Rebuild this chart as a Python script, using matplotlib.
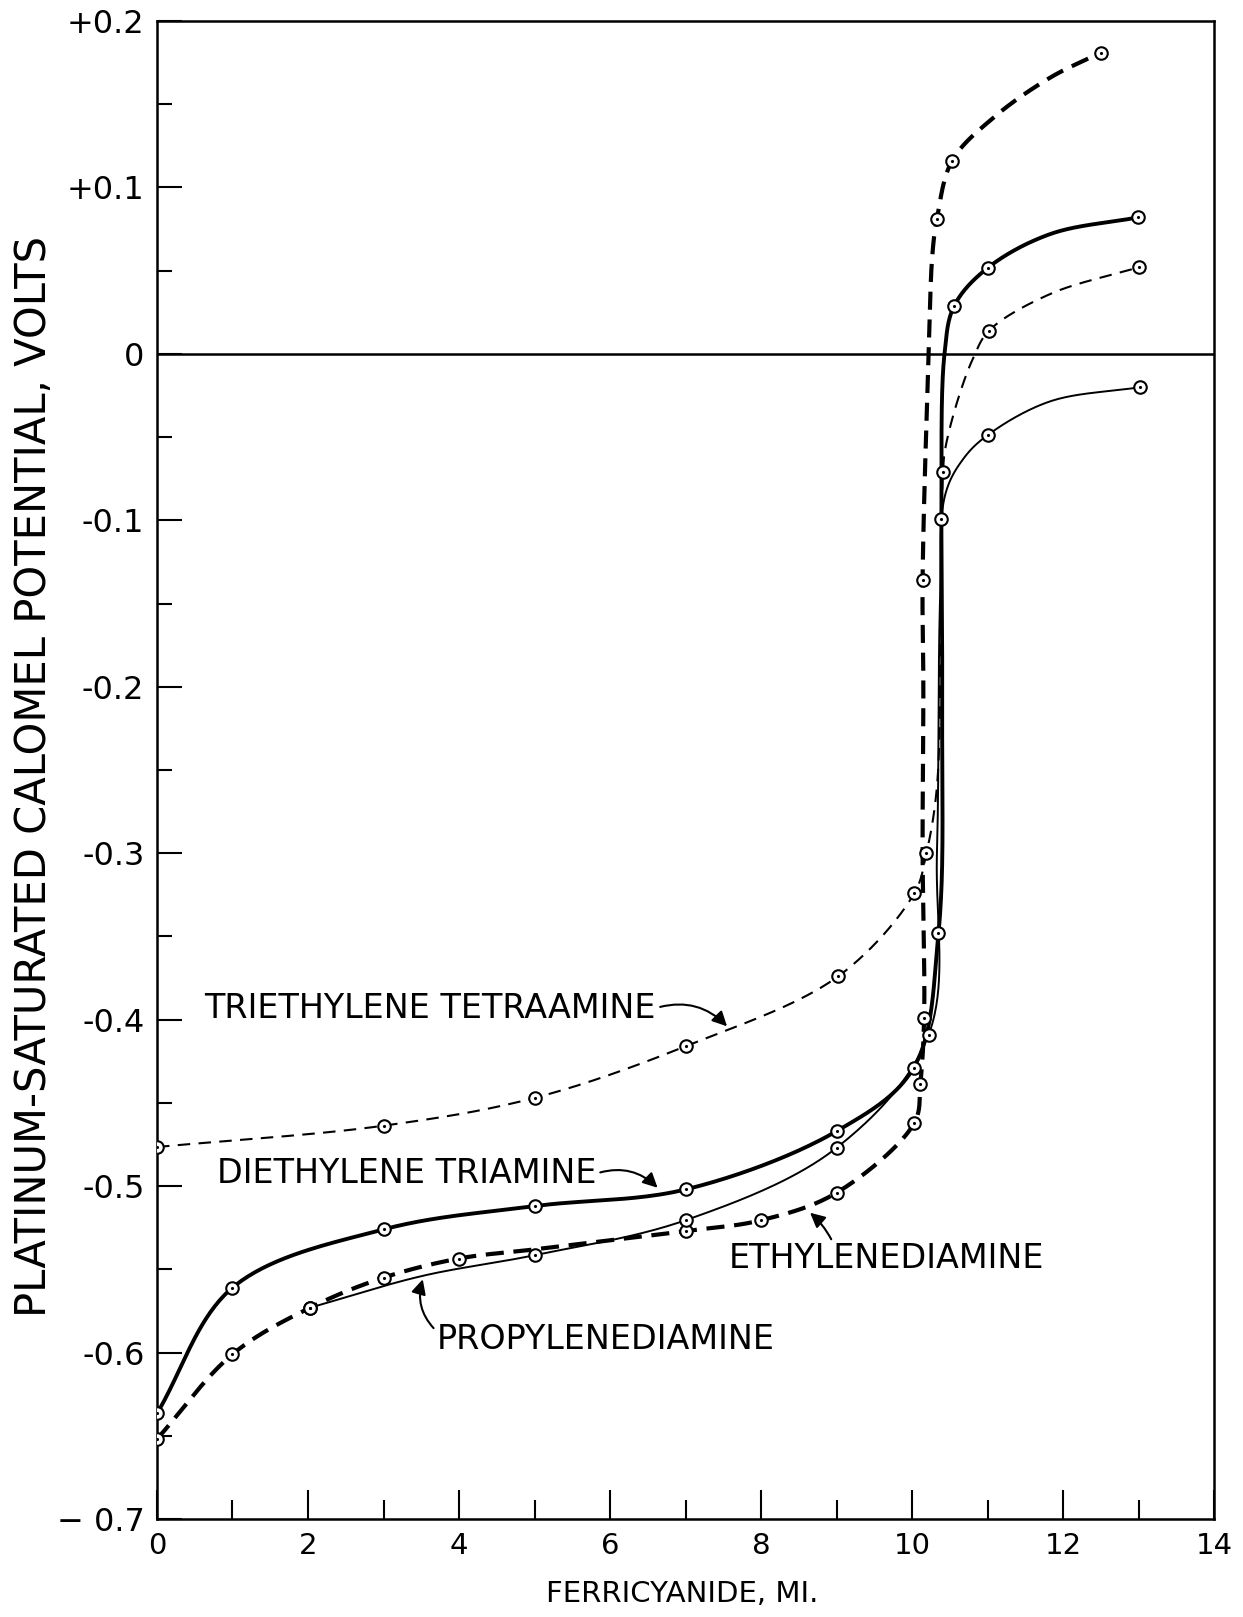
import matplotlib
matplotlib.use("Agg")
import matplotlib.pyplot as plt
import numpy as np

plt.rcParams['font.family'] = ['DejaVu Sans']
plt.rcParams['lines.scale_dashes'] = False

# measured points (drawn with circles)
eth_x = [0, 1, 2.03, 3, 4, 7, 8, 9, 10.03, 10.11, 10.16, 10.14, 10.33, 10.53, 12.5]
eth_y = [-0.652, -0.601, -0.573, -0.555, -0.5435, -0.527, -0.5205, -0.504, -0.462, -0.4385, -0.399, -0.136, 0.081, 0.116, 0.181]
# unmarked points
eth_gx = [5, 10.14, 10.15, 10.22, 10.27, 11.08, 11.83]
eth_gy = [-0.538, -0.30, -0.20, 0.0, 0.06, 0.142, 0.166]

tri_x = [0, 1, 3, 5, 7, 9, 10.02, 10.35, 10.39, 10.56, 11.0, 12.99]
tri_y = [-0.6366, -0.561, -0.526, -0.512, -0.502, -0.467, -0.429, -0.348, -0.099, 0.029, 0.0516, 0.082]
tri_gx = [10.40, 10.43, 11.83]
tri_gy = [-0.22, 0.0, 0.072]

pro_x = [2.03, 5, 7, 9, 10.22, 11.01, 13.02]
pro_y = [-0.573, -0.5415, -0.5205, -0.477, -0.409, -0.0485, -0.020]
pro_gx = [3.51, 10.33, 10.37, 10.44, 10.68, 11.83]
pro_gy = [-0.554, -0.30, -0.15, -0.0845, -0.063, -0.0285]

tet_x = [0, 3, 5, 7, 9.02, 10.03, 10.19, 10.41, 11.02, 13.0]
tet_y = [-0.4765, -0.4637, -0.447, -0.416, -0.374, -0.324, -0.300, -0.071, 0.014, 0.052]
tet_gx = [10.33, 10.38, 10.44, 10.6, 10.81, 11.83]
tet_gy = [-0.26, -0.15, -0.057, -0.0285, -0.0025, 0.036]

ytick_vals = [0.2, 0.1, 0, -0.1, -0.2, -0.3, -0.4, -0.5, -0.6, -0.7]
ytick_text = ['+0.2', '+0.1', '0', '-0.1', '-0.2', '-0.3', '-0.4', '-0.5', '-0.6', '\u2212 0.7']
xtick_vals = [0, 2, 4, 6, 8, 10, 12, 14]


def smooth(xs, ys, sx=75.5, sy=1664.0, n=40):
    # centripetal Catmull-Rom through the points, sorted along the rising curve
    order = np.argsort(ys, kind='stable')
    P = np.column_stack([np.asarray(xs, float)[order] * sx, np.asarray(ys, float)[order] * sy])
    P = np.vstack([2 * P[0] - P[1], P, 2 * P[-1] - P[-2]])
    out = []
    for i in range(1, len(P) - 2):
        p0, p1, p2, p3 = P[i - 1], P[i], P[i + 1], P[i + 2]
        t0 = 0.0
        t1 = t0 + max(np.linalg.norm(p1 - p0), 1e-6) ** 0.5
        t2 = t1 + max(np.linalg.norm(p2 - p1), 1e-6) ** 0.5
        t3 = t2 + max(np.linalg.norm(p3 - p2), 1e-6) ** 0.5
        t = np.linspace(t1, t2, n)[:, None]
        a1 = (t1 - t) / (t1 - t0) * p0 + (t - t0) / (t1 - t0) * p1
        a2 = (t2 - t) / (t2 - t1) * p1 + (t - t1) / (t2 - t1) * p2
        a3 = (t3 - t) / (t3 - t2) * p2 + (t - t2) / (t3 - t2) * p3
        b1 = (t2 - t) / (t2 - t0) * a1 + (t - t0) / (t2 - t0) * a2
        b2 = (t3 - t) / (t3 - t1) * a2 + (t - t1) / (t3 - t1) * a3
        c = (t2 - t) / (t2 - t1) * b1 + (t - t1) / (t2 - t1) * b2
        out.append(c)
    c = np.vstack(out)
    return c[:, 0] / sx, c[:, 1] / sy


fig = plt.figure(figsize=(12.43, 16.17), dpi=100)
ax = fig.add_axes([0.1263, 0.0606, 0.8504, 0.9264])

series = [
    (eth_x, eth_y, eth_gx, eth_gy, 3.0, (0, (13, 7))),
    (tri_x, tri_y, tri_gx, tri_gy, 2.8, '-'),
    (pro_x, pro_y, pro_gx, pro_gy, 1.4, '-'),
    (tet_x, tet_y, tet_gx, tet_gy, 1.5, (0, (9, 6))),
]
for x, y, gx, gy, lw, ls in series:
    cx, cy = smooth(list(x) + list(gx), list(y) + list(gy))
    ax.plot(cx, cy, color='black', lw=lw, linestyle=ls, zorder=2)
    ax.plot(x, y, 'o', ms=9, mfc='white', mec='black', mew=1.5, zorder=3)
    ax.plot(x, y, '.', ms=2.5, color='black', zorder=4)

ax.axhline(0, color='black', lw=1.8, zorder=1)

ax.set_xlim(0, 14)
ax.set_ylim(-0.7, 0.2)
for s in ax.spines.values():
    s.set_linewidth(1.8)

ax.set_yticks(ytick_vals)
ax.set_yticklabels(ytick_text, fontsize=23)
ax.set_yticks(np.arange(-0.65, 0.2, 0.1), minor=True)
ax.set_xticks(xtick_vals)
ax.set_xticklabels([str(v) for v in xtick_vals], fontsize=21)
ax.set_xticks(np.arange(1, 14, 2), minor=True)
ax.tick_params(axis='y', which='major', direction='in', length=18, width=1.5, pad=9)
ax.tick_params(axis='y', which='minor', direction='in', length=11, width=1.5)
ax.tick_params(axis='x', which='major', direction='in', length=21, width=1.5, pad=9)
ax.tick_params(axis='x', which='minor', direction='in', length=14, width=1.5)
ax.tick_params(top=False, right=False, which='both')

fig.text(0.027, 0.52, 'PLATINUM-SATURATED CALOMEL POTENTIAL, VOLTS',
         rotation=90, ha='center', va='center', fontsize=30)
fig.text(0.549, 0.014, 'FERRICYANIDE, MI.', ha='center', va='center', fontsize=21)

arrow = dict(arrowstyle='-|>', color='black', lw=1.5, mutation_scale=22)
ax.annotate('TRIETHYLENE TETRAAMINE', xy=(7.55, -0.404), xytext=(0.63, -0.393),
            fontsize=24, ha='left', va='center',
            arrowprops=dict(arrow, connectionstyle='arc3,rad=-0.3', shrinkA=1, shrinkB=0,
                            relpos=(1.0, 0.5)))
ax.annotate('DIETHYLENE TRIAMINE', xy=(6.63, -0.501), xytext=(0.79, -0.4925),
            fontsize=24, ha='left', va='center',
            arrowprops=dict(arrow, connectionstyle='arc3,rad=-0.3', shrinkA=1, shrinkB=0,
                            relpos=(1.0, 0.5)))
ax.annotate('ETHYLENEDIAMINE', xy=(8.65, -0.516), xytext=(7.57, -0.5435),
            fontsize=24, ha='left', va='center',
            arrowprops=dict(arrow, connectionstyle='arc3,rad=0.1', shrinkA=0, shrinkB=0,
                            relpos=(0.33, 1.0)))
ax.annotate('PROPYLENEDIAMINE', xy=(3.52, -0.556), xytext=(3.70, -0.592),
            fontsize=24, ha='left', va='center',
            arrowprops=dict(arrow, connectionstyle='arc3,rad=-0.3', shrinkA=0, shrinkB=0,
                            relpos=(0.0, 0.75)))

fig.savefig('out.png', dpi=100)
